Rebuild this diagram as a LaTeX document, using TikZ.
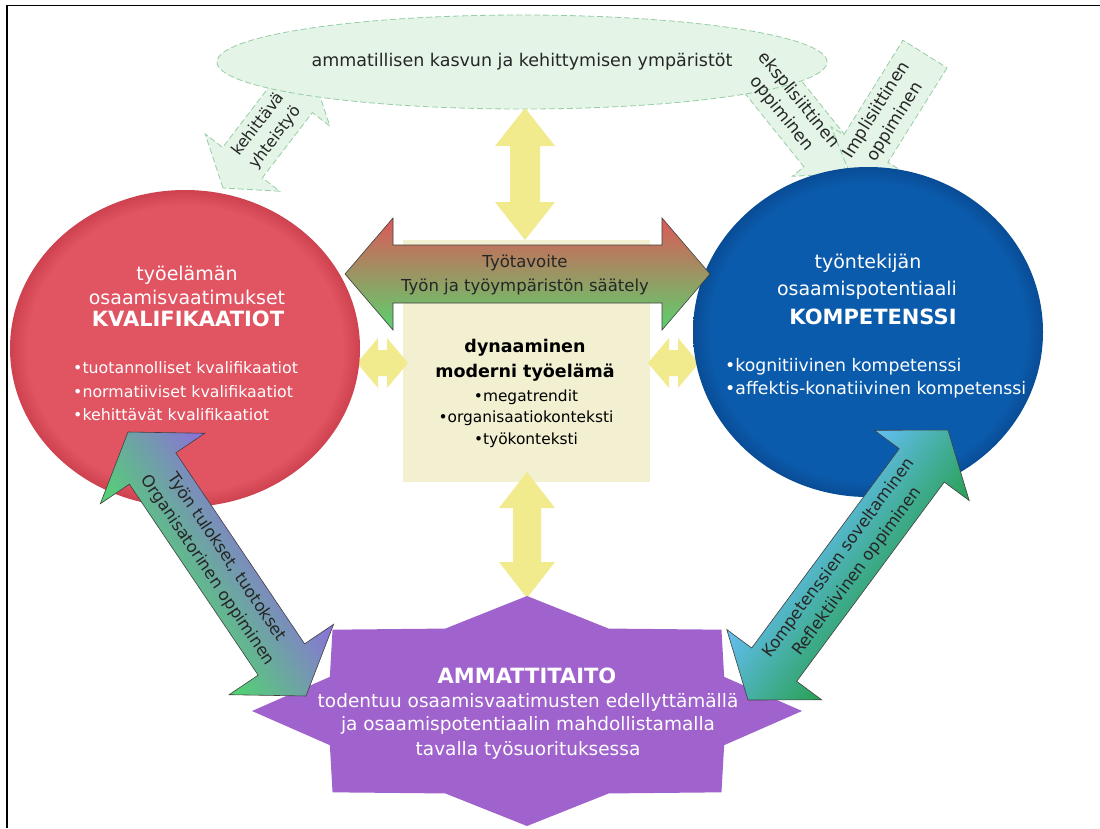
\documentclass[tikz,border=0pt]{standalone}
\usepackage{fontspec}
\setmainfont{DejaVu Sans}
\usetikzlibrary{shapes.geometric,calc}
\definecolor{lgfill}{RGB}{228,245,232}
\definecolor{lgline}{RGB}{150,205,165}
\definecolor{yel}{RGB}{241,235,142}
\definecolor{beige}{RGB}{243,240,210}
\definecolor{redA}{RGB}{225,84,98}
\definecolor{redB}{RGB}{206,66,80}
\definecolor{bluA}{RGB}{11,91,172}
\definecolor{bluB}{RGB}{9,76,150}
\definecolor{stp}{RGB}{160,98,204}
\definecolor{rgtop}{RGB}{220,88,88}
\definecolor{rgbot}{RGB}{90,210,110}
\definecolor{lpur}{RGB}{140,110,220}
\definecolor{lgrn}{RGB}{80,215,110}
\definecolor{rblu}{RGB}{100,190,245}
\definecolor{rgrn}{RGB}{40,160,80}
\pgfdeclareradialshading{redball}{\pgfpoint{0bp}{0bp}}{color(0bp)=(redA); color(22.5bp)=(redA); color(25bp)=(redB); color(50bp)=(redB)}
\pgfdeclareradialshading{bluball}{\pgfpoint{0bp}{0bp}}{color(0bp)=(bluA); color(22.5bp)=(bluA); color(25bp)=(bluB); color(50bp)=(bluB)}
\newcommand\arrowsetup[2]{%
  \pgfpointdiff{\pgfpointanchor{#1}{center}}{\pgfpointanchor{#2}{center}}%
  \pgfgetlastxy\ddx\ddy
  \pgfmathsetmacro\alen{veclen(\ddx,\ddy)}%
  \pgfmathsetmacro\aang{atan2(\ddy,\ddx)}%
}
% #1 start, #2 end, #3 shaft half width, #4 head half width, #5 head length, #6 style
\newcommand\dblarrow[6]{%
  \arrowsetup{#1}{#2}%
  \pgfmathsetmacro\aend{\alen-#5}%
  \begin{scope}[transform canvas={shift={(#1)},rotate=\aang}]
    \path[#6] (0pt,0pt) -- (#5pt,#4pt) -- (#5pt,#3pt) -- (\aend pt,#3pt) -- (\aend pt,#4pt)
      -- (\alen pt,0pt) -- (\aend pt,-#4pt) -- (\aend pt,-#3pt) -- (#5pt,-#3pt) -- (#5pt,-#4pt) -- cycle;
  \end{scope}}
\newcommand\sglarrow[6]{%
  \arrowsetup{#1}{#2}%
  \pgfmathsetmacro\aend{\alen-#5}%
  \begin{scope}[transform canvas={shift={(#1)},rotate=\aang}]
    \path[#6] (0pt,#3pt) -- (\aend pt,#3pt) -- (\aend pt,#4pt)
      -- (\alen pt,0pt) -- (\aend pt,-#4pt) -- (\aend pt,-#3pt) -- (0pt,-#3pt) -- cycle;
  \end{scope}}
\tikzset{
  every node/.style={inner sep=0pt},
  lgband/.style={fill=lgfill, draw=lgline, line width=0.8pt, dash pattern=on 6pt off 3pt},
  yelarrow/.style={fill=yel},
  rgarrow/.style={top color=rgtop, bottom color=rgbot, draw=black!75, line width=0.6pt},
  larrow/.style={top color=lpur, bottom color=lgrn, draw=black!75, line width=0.6pt},
  rarrow/.style={top color=rblu, bottom color=rgrn, draw=black!75, line width=0.6pt},
  wt/.style={text=white},
  dt/.style={text=black!85},
  f/.style={font=\fontsize{#1}{#1}\selectfont},
  fb/.style={font=\fontsize{#1}{#1}\selectfont\bfseries},
  two/.style 2 args={align=center, font=\fontsize{#1}{#2}\selectfont},
}
\begin{document}
\begin{tikzpicture}[x=1pt,y=-1pt]
\useasboundingbox (0,0) rectangle (1100,828);
\fill[white] (0,0) rectangle (1100,828);
\draw[line width=1.5pt] (7,828) -- (7,5.5) -- (1100,5.5);

% light green bands
\coordinate (kA) at (223,188); \coordinate (kB) at (312,72);
\dblarrow{kA}{kB}{25}{47}{32}{lgband}
\coordinate (eA) at (737,42); \coordinate (eB) at (843,174);
\dblarrow{eA}{eB}{26}{41}{30}{lgband}
\coordinate (iA) at (925,54); \coordinate (iB) at (850,174);
\sglarrow{iA}{iB}{26}{41}{30}{lgband}

% environment ellipse
\node[ellipse, minimum width=610pt, minimum height=94pt, lgband] (env) at (522,62) {};

% yellow top arrow
\coordinate (yt1) at (525,108); \coordinate (yt2) at (525,240);
\dblarrow{yt1}{yt2}{15}{30}{38}{yelarrow}

% beige box
\node[fill=beige, minimum width=247pt, minimum height=242pt] (box) at (526.5,361) {};

% yellow small arrows
\coordinate (yl1) at (357,363); \coordinate (yl2) at (408,363);
\dblarrow{yl1}{yl2}{13}{25}{21}{yelarrow}
\coordinate (yr1) at (648,363); \coordinate (yr2) at (699,363);
\dblarrow{yr1}{yr2}{13}{25}{21}{yelarrow}
\coordinate (yb1) at (527,472); \coordinate (yb2) at (527,598);
\dblarrow{yb1}{yb2}{14}{28}{36}{yelarrow}

% circles
\node[ellipse, minimum width=350pt, minimum height=317pt, shading=redball] (redc) at (185,348.5) {};
\node[ellipse, minimum width=350pt, minimum height=330pt, shading=bluball] (bluc) at (868,332) {};

% red-green horizontal arrow
\coordinate (rgL) at (345,274); \coordinate (rgR) at (710,274);
\dblarrow{rgL}{rgR}{29}{56}{48}{rgarrow}

% star
\coordinate (star) at (527,711);
\fill[stp] (527,596) \foreach \a/\r in {67.5/0.776,45/1,22.5/0.776,0/1,-22.5/0.776,-45/1,-67.5/0.776,-90/1,-112.5/0.776,-135/1,-157.5/0.776,180/1,157.5/0.776,135/1,112.5/0.776}{ -- ({527+\r*275*cos(\a)},{711-\r*115*sin(\a)}) } -- cycle;

% diagonal arrows
\coordinate (lA) at (128,432); \coordinate (lB) at (306,696);
\dblarrow{lA}{lB}{28}{63}{44}{larrow}
\coordinate (rA) at (748,700); \coordinate (rB) at (948,430);
\dblarrow{rA}{rB}{28}{59}{44}{rarrow}

% texts
\node[f=17.5, dt] (envt) at (522,62) {ammatillisen kasvun ja kehittymisen ympäristöt};
\node[two={16}{21.5}, dt, rotate=52.5] (kt) at (267,131) {kehittävä\\yhteistyö};
\node[two={17}{22}, dt, rotate=-51] (et) at (790,107) {eksplisiittinen\\oppiminen};
\node[two={17}{22}, dt, rotate=58] (it) at (886,116) {Implisiittinen\\oppiminen};

\node[f=19, wt] at (187,275) {työelämän};
\node[f=19, wt] at (187,297) {osaamisvaatimukset};
\node[fb=21, wt] at (188,319) {KVALIFIKAATIOT};
\node[f=15.8, wt, anchor=west] at (73,368) {•tuotannolliset kvalifikaatiot};
\node[f=15.8, wt, anchor=west] at (73,392) {•normatiiviset kvalifikaatiot};
\node[f=15.8, wt, anchor=west] at (73,415) {•kehittävät kvalifikaatiot};

\node[f=19, wt] at (868,263) {työntekijän};
\node[f=19, wt] at (867,290) {osaamispotentiaali};
\node[fb=21, wt] at (873,317) {KOMPETENSSI};
\node[f=17.3, wt, anchor=west] at (725,367) {•kognitiivinen kompetenssi};
\node[f=17.3, wt, anchor=west] at (725,390) {•affektis-konatiivinen kompetenssi};

\node[f=16.5, dt] at (525,263) {Työtavoite};
\node[f=16.5, dt] at (525,287) {Työn ja työympäristön säätely};

\node[fb=17.5, text=black] at (525,348) {dynaaminen};
\node[fb=17.5, text=black] at (525,373) {moderni työelämä};
\node[f=15.4, text=black] at (526,397) {•megatrendit};
\node[f=15.4, text=black] at (526,418) {•organisaatiokonteksti};
\node[f=15.4, text=black] at (526,440) {•työkonteksti};

\node[fb=21, wt] at (527,676) {AMMATTITAITO};
\node[f=18.5, wt] at (528,702) {todentuu osaamisvaatimusten edellyttämällä};
\node[f=18.5, wt] at (528,725) {ja osaamispotentiaalin mahdollistamalla};
\node[f=18.5, wt] at (528,750) {tavalla työsuorituksessa};

\node[two={16.5}{23}, dt, rotate=-56] (lt) at (217,564) {Työn tulokset, tuotokset\\Organisatorinen oppiminen};
\node[two={16.5}{23}, dt, rotate=53.5] (rt) at (848,565) {Kompetenssien soveltaminen\\Reflektiivinen oppiminen};
\end{tikzpicture}
\end{document}
